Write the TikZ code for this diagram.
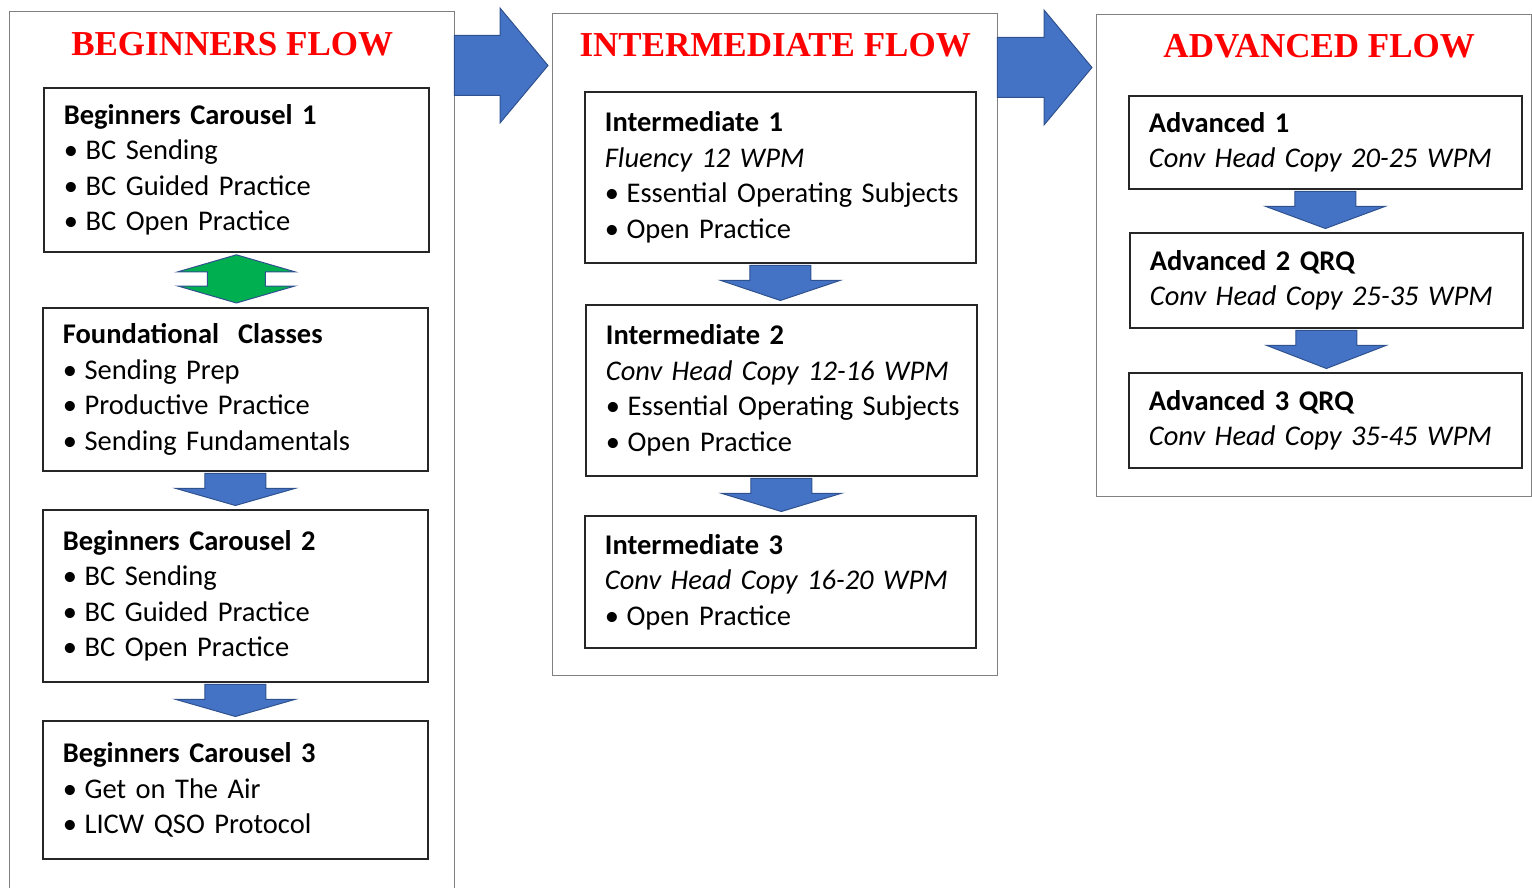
\documentclass[tikz,border=0pt]{standalone}
\usepackage{fontspec}
\setmainfont{Liberation Serif}
\newfontfamily\calibri{Carlito}
\usetikzlibrary{calc}
\definecolor{arrowblue}{HTML}{4472C4}
\definecolor{arrowedge}{HTML}{2F528F}
\definecolor{arrowgreen}{HTML}{00B050}
\definecolor{titlered}{HTML}{FF0000}

\newcommand{\flowbullet}{•\kern7.5pt}
% block arrow from the bottom of one box to the top of the next
\newcommand{\flowdown}[2]{%
  \path[flowarrow] let \p1=(#1.south), \p2=(#2.north) in
    (\x1-30.5pt,\y1-1.5pt) -- (\x1+30.5pt,\y1-1.5pt) -- (\x1+30.5pt,\y1-16.5pt)
    -- (\x1+60pt,\y1-16.5pt) -- (\x1,\y2+3.5pt) -- (\x1-60pt,\y1-16.5pt)
    -- (\x1-30.5pt,\y1-16.5pt) -- cycle;}
% block arrow from one column to the next
\newcommand{\flowright}[2]{%
  \path[flowarrow] let \p1=($(#1.north east)+(0,54.5)$), \p2=(#2.west) in
    (\x1-1pt,\y1+30pt) -- (\x2-52pt,\y1+30pt) -- (\x2-52pt,\y1+57.5pt)
    -- (\x2-4pt,\y1) -- (\x2-52pt,\y1-57.5pt) -- (\x2-52pt,\y1-30pt)
    -- (\x1-1pt,\y1-30pt) -- cycle;}

\begin{document}
\begin{tikzpicture}[x=1pt,y=-1pt]
\tikzset{
  outerbox/.style={draw=black!50, line width=1.4pt, anchor=north west, inner sep=0pt},
  flowtitle/.style={text=titlered, font=\bfseries\fontsize{35}{40}\selectfont},
  flowbox/.style={draw=black!85, line width=1.8pt, anchor=north west, align=left,
    inner xsep=20pt, inner ysep=0pt, font=\calibri\fontsize{28.5}{35.5}\selectfont,
    execute at begin node={\hyphenpenalty=10000\exhyphenpenalty=10000}},
  flowarrow/.style={fill=arrowblue, draw=arrowedge, line width=1pt},
}
\useasboundingbox (0,0) rectangle (1532,888);

% columns
\node[outerbox, minimum width=445pt, minimum height=879pt] (beginflow) at (9,11) {};
\node[outerbox, minimum width=445pt, minimum height=662pt] (interflow) at (552,13) {};
\node[outerbox, minimum width=435pt, minimum height=482pt] (advflow) at (1096,14) {};
\node[flowtitle] (begintitle) at ($(beginflow.north)+(0,33)$) {BEGINNERS FLOW};
\node[flowtitle] (intertitle) at ($(interflow.north)+(0,32)$) {INTERMEDIATE FLOW};
\node[flowtitle] (advtitle) at ($(advflow.north)+(5,32)$) {ADVANCED FLOW};

% beginners
\node[flowbox, minimum width=385pt, text width=345pt, minimum height=164pt] (bcone) at (43,87)
  {\textbf{Beginners Carousel 1}\\\flowbullet BC Sending\\\flowbullet BC Guided Practice\\\flowbullet BC Open Practice};
\node[flowbox, minimum width=385pt, text width=345pt, minimum height=163pt] (found) at (42,307)
  {\textbf{Foundational\ \ Classes}\\\flowbullet Sending Prep\\\flowbullet Productive Practice\\\flowbullet Sending~Fundamentals};
\node[flowbox, minimum width=385pt, text width=345pt, minimum height=172pt] (bctwo) at (42,509)
  {\textbf{Beginners Carousel 2}\\\flowbullet BC Sending\\\flowbullet BC Guided Practice\\\flowbullet BC Open Practice};
\node[flowbox, minimum width=385pt, text width=345pt, minimum height=138pt] (bcthree) at (42,720)
  {\textbf{Beginners Carousel 3}\\\flowbullet Get on The Air\\\flowbullet LICW QSO Protocol};

% intermediate
\node[flowbox, minimum width=391pt, text width=351pt, minimum height=171pt] (interone) at (584,91)
  {\textbf{Intermediate 1}\\\textit{Fluency 12 WPM}\\\flowbullet Essential~Operating~Subjects\\\flowbullet Open Practice};
\node[flowbox, minimum width=391pt, text width=351pt, minimum height=171pt] (intertwo) at (585,304)
  {\textbf{Intermediate 2}\\\textit{Conv~Head~Copy~12-16~WPM}\\\flowbullet Essential~Operating~Subjects\\\flowbullet Open Practice};
\node[flowbox, minimum width=391pt, text width=351pt, minimum height=132pt] (interthree) at (584,515)
  {\textbf{Intermediate 3}\\\textit{Conv~Head~Copy~16-20~WPM}\\\flowbullet Open Practice};

% advanced
\node[flowbox, minimum width=393pt, text width=353pt, minimum height=93pt] (advone) at (1128,95)
  {\textbf{Advanced 1}\\\textit{Conv~Head~Copy~20-25~WPM}};
\node[flowbox, minimum width=393pt, text width=353pt, minimum height=95pt] (advtwo) at (1129,232)
  {\textbf{Advanced 2 QRQ}\\\textit{Conv~Head~Copy~25-35~WPM}};
\node[flowbox, minimum width=393pt, text width=353pt, minimum height=95pt] (advthree) at (1128,372)
  {\textbf{Advanced 3 QRQ}\\\textit{Conv~Head~Copy~35-45~WPM}};

% green two-way arrow
\path[flowarrow, fill=arrowgreen] let \p1=(bcone.south), \p2=(found.north) in
  (\x1,\y1-2pt) -- (\x1+58.5pt,\y1-19pt) -- (\x1+29pt,\y1-19pt) -- (\x1+29pt,\y2+21pt)
  -- (\x1+58.5pt,\y2+21pt) -- (\x1,\y2+4pt) -- (\x1-58.5pt,\y2+21pt) -- (\x1-29pt,\y2+21pt)
  -- (\x1-29pt,\y1-19pt) -- (\x1-58.5pt,\y1-19pt) -- cycle;

\flowdown{found}{bctwo}
\flowdown{bctwo}{bcthree}
\flowdown{interone}{intertwo}
\flowdown{intertwo}{interthree}
\flowdown{advone}{advtwo}
\flowdown{advtwo}{advthree}
\flowright{beginflow}{interflow}
\flowright{interflow}{advflow}
\end{tikzpicture}
\end{document}
